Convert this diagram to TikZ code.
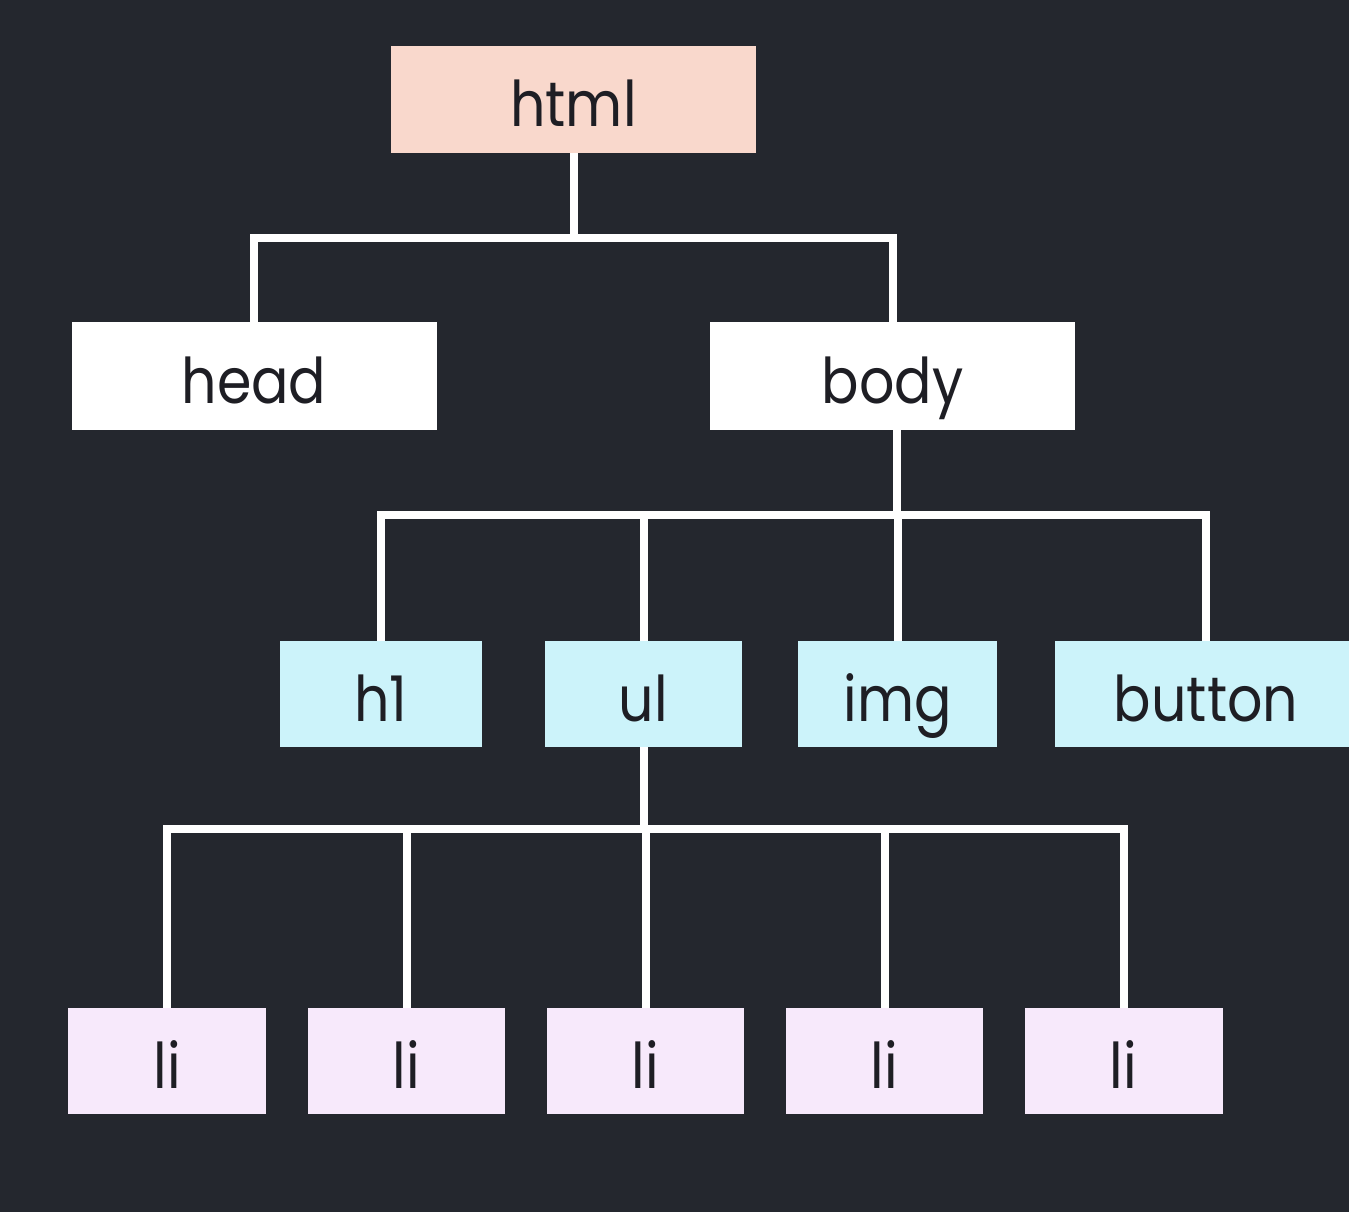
\documentclass[tikz,border=0pt]{standalone}
\usepackage{fontspec}
\setmainfont[FakeStretch=0.88]{Poppins}
\definecolor{bg}{HTML}{24272E}
\definecolor{htmlc}{HTML}{F9D8CC}
\definecolor{bluec}{HTML}{CCF3FA}
\definecolor{lic}{HTML}{F7E9FB}
\definecolor{txt}{HTML}{1E1E24}
\begin{document}
\begin{tikzpicture}[x=1pt,y=-1pt,
  box/.style={inner sep=0pt, text=txt, font=\fontsize{63}{65}\selectfont, text height=62pt, text depth=7pt},
  big/.style={box, minimum width=365pt, minimum height=107pt},
  mid/.style={box, fill=bluec, minimum width=199pt, minimum height=106pt},
  leaf/.style={box, fill=lic, minimum width=198pt, minimum height=106pt},
  conn/.style={draw=white, line width=8pt, line join=miter}]
\fill[bg] (0,0) rectangle (1349,1212);
\useasboundingbox (0,0) rectangle (1349,1212);
% level 0
\node[big, fill=htmlc] (html) at (573.5,99.5) {html};
% level 1
\node[big, fill=white, minimum height=108pt] (head) at (254,376) {head};
\node[big, fill=white, minimum height=108pt] (body) at (892.5,376) {body};
% level 2
\node[mid, minimum width=202pt] (h1) at (381,694) {h1};
\node[mid, minimum width=197pt] (ul) at (643.5,694) {ul};
\node[mid] (img) at (897.5,694) {img};
\node[mid, minimum width=302pt] (button) at (1206,694) {};
\node[box] (buttontext) at (1206,694) {button};
% level 3
\node[leaf] (li1) at (167,1061) {li};
\node[leaf, minimum width=197pt] (li2) at (406.5,1061) {li};
\node[leaf, minimum width=197pt] (li3) at (645.5,1061) {li};
\node[leaf, minimum width=197pt] (li4) at (884.5,1061) {li};
\node[leaf] (li5) at (1123.5,1061) {li};
% buses
\coordinate (bus0) at (0,238);
\coordinate (bus1) at (0,515);
\coordinate (bus2) at (0,829);
\draw[conn] (html.south) -- (html.south |- bus0) -| (head.north);
\draw[conn] (html.south |- bus0) -| (body.north);
\draw[conn] ([xshift=4pt]body.south) -- ([xshift=4pt]body.south |- bus1) -| (h1.north);
\draw[conn] ([xshift=4pt]body.south |- bus1) -| (button.north);
\draw[conn] (ul.north) -- (ul.north |- bus1);
\draw[conn] (img.north) -- (img.north |- bus1);
\draw[conn] (ul.south) -- (ul.south |- bus2) -| (li1.north);
\draw[conn] (ul.south |- bus2) -| (li5.north);
\draw[conn] (li2.north) -- (li2.north |- bus2);
\draw[conn] (li3.north) -- (li3.north |- bus2);
\draw[conn] (li4.north) -- (li4.north |- bus2);
\end{tikzpicture}
\end{document}
